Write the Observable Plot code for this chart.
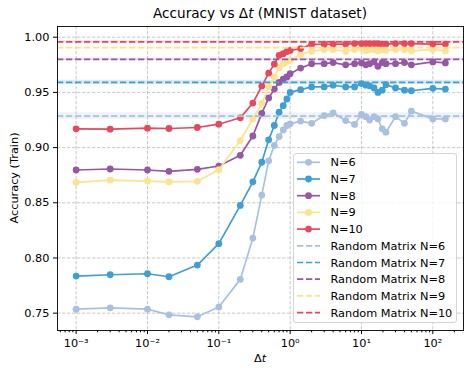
<!DOCTYPE html>
<html>
<head>
<meta charset="utf-8">
<script src="https://cdn.jsdelivr.net/npm/d3@7"></script>
<script src="https://cdn.jsdelivr.net/npm/@observablehq/plot@0.6"></script>
<style>
  html, body { margin: 0; padding: 0; background: #fff; }
  svg { display: block; }
</style>
</head>
<body>
<div id="chart"></div>
<script>
// ---- data ----
const dt = [0.001, 0.003, 0.01, 0.02, 0.05, 0.1, 0.2, 0.3, 0.4, 0.5, 0.6, 0.7, 0.8, 0.9, 1.0, 1.4, 2, 3, 4, 6, 8, 10, 11.5, 13, 15, 17, 19.5, 22, 30, 40, 50, 100, 150];

const accN6 = [0.7536, 0.7548, 0.7536, 0.7485, 0.7467, 0.7555, 0.7806, 0.818, 0.857, 0.888, 0.902, 0.910, 0.916, 0.920, 0.9215, 0.924, 0.922, 0.929, 0.9315, 0.9245, 0.921, 0.930, 0.928, 0.925, 0.928, 0.926, 0.917, 0.914, 0.928, 0.922, 0.933, 0.926, 0.926];
const accN7 = [0.7836, 0.7848, 0.7857, 0.783, 0.7936, 0.813, 0.8476, 0.869, 0.8867, 0.907, 0.920, 0.932, 0.938, 0.944, 0.950, 0.9525, 0.955, 0.955, 0.9565, 0.955, 0.955, 0.958, 0.9565, 0.956, 0.954, 0.950, 0.952, 0.957, 0.954, 0.952, 0.9515, 0.9537, 0.953];
const accN8 = [0.8797, 0.8806, 0.8797, 0.8785, 0.8803, 0.8833, 0.893, 0.9105, 0.931, 0.945, 0.953, 0.959, 0.962, 0.964, 0.967, 0.972, 0.976, 0.976, 0.977, 0.975, 0.976, 0.9767, 0.975, 0.976, 0.9776, 0.9736, 0.977, 0.976, 0.976, 0.977, 0.975, 0.9776, 0.9767];
const accN9 = [0.8685, 0.8706, 0.8697, 0.869, 0.8694, 0.880, 0.9064, 0.926, 0.940, 0.9548, 0.964, 0.9724, 0.976, 0.978, 0.979, 0.9845, 0.9873, 0.9888, 0.9888, 0.9873, 0.9888, 0.9897, 0.988, 0.9888, 0.9888, 0.9876, 0.9888, 0.988, 0.9888, 0.9888, 0.9876, 0.9888, 0.9876];
const accN10 = [0.917, 0.9167, 0.9176, 0.9173, 0.9182, 0.9212, 0.927, 0.9403, 0.9557, 0.9675, 0.9757, 0.9836, 0.985, 0.987, 0.988, 0.9897, 0.9935, 0.9936, 0.9938, 0.9938, 0.9942, 0.9942, 0.9942, 0.9942, 0.9942, 0.9942, 0.9938, 0.9938, 0.9942, 0.9942, 0.9942, 0.9938, 0.9938];

const seriesNames = ["N=6", "N=7", "N=8", "N=9", "N=10"];
const seriesColors = ["#a9c0e0", "#3f9fd2", "#9558a3", "#fde28f", "#e9475f"];

const randomNames = ["Random Matrix N=6", "Random Matrix N=7", "Random Matrix N=8", "Random Matrix N=9", "Random Matrix N=10"];
const randomAcc = [0.9285, 0.959, 0.980, 0.9906, 0.9957];
const randomSd = [0.003, 0.002, 0.001, 0.001, 0.001];

const xMajor = [1e-3, 1e-2, 1e-1, 1e0, 1e1, 1e2];
const xMajorLabels = ["10\u207B\u00B3", "10\u207B\u00B2", "10\u207B\u00B9", "10\u2070", "10\u00B9", "10\u00B2"];
const yTicks = [0.75, 0.80, 0.85, 0.90, 0.95, 1.00];
const xDomain = [5.48e-4, 269];
const yDomain = [0.7343, 1.0097];

// ---- tables ----
const accBySeries = [accN6, accN7, accN8, accN9, accN10];
const table = seriesNames.map((s, i) => dt.map((x, j) => ({series: s, dt: x, acc: accBySeries[i][j]})));
const randomTable = seriesNames.map((s, i) => ({series: s, acc: randomAcc[i], sd: randomSd[i]}));

const xMinor = [];
for (let e = -4; e <= 2; e++) for (let m = 2; m <= 9; m++) {
  const v = m * Math.pow(10, e);
  if (v >= xDomain[0] && v <= xDomain[1]) xMinor.push(v);
}

const FS = 11.3;
const gridStyle = {stroke: "#b0b0b0", strokeOpacity: 0.85, strokeWidth: 0.8, strokeDasharray: "3.4,1.6"};

const seriesMarks = [];
table.forEach((rows) => {
  seriesMarks.push(Plot.line(rows, {x: "dt", y: "acc", stroke: "series", strokeWidth: 1.7}));
  seriesMarks.push(Plot.dot(rows, {x: "dt", y: "acc", fill: "series", r: 3.4, stroke: "none"}));
});

const svg = Plot.plot({
  width: 471,
  height: 373,
  marginLeft: 57,
  marginRight: 8,
  marginTop: 26,
  marginBottom: 43,
  style: {fontFamily: "'DejaVu Sans', sans-serif", fontSize: FS + "px", color: "#000", background: "#fff"},
  x: {type: "log", domain: xDomain},
  y: {domain: yDomain},
  color: {domain: seriesNames, range: seriesColors},
  marks: [
    Plot.gridX(xMajor, gridStyle),
    Plot.gridY(yTicks, gridStyle),
    Plot.rect(randomTable, {x1: () => xDomain[0], x2: () => xDomain[1], y1: d => d.acc - d.sd, y2: d => d.acc + d.sd, fill: "series", fillOpacity: 0.2}),
    ...seriesMarks,
    Plot.ruleY(randomTable, {y: "acc", stroke: "series", strokeWidth: 1.7, strokeDasharray: "6.3,2.7"}),
    Plot.axisX(xMajor, {tickSize: 4, tickPadding: 4, tickFormat: (d) => xMajorLabels[xMajor.indexOf(d)], label: null, fontSize: FS}),
    Plot.axisX(xMinor, {tickSize: 2.3, tickFormat: () => "", label: null}),
    Plot.axisY(yTicks, {tickSize: 4, tickPadding: 4, tickFormat: d3.format(".2f"), label: null, fontSize: FS}),
    Plot.frame({stroke: "#000", strokeWidth: 0.9})
  ]
});

const root = d3.select(svg);
const font = "'DejaVu Sans', sans-serif";

// Title
const title = root.append("text")
  .attr("x", 260).attr("y", 18)
  .attr("text-anchor", "middle")
  .attr("font-family", font).attr("font-size", 13.6).attr("fill", "#000");
title.append("tspan").text("Accuracy vs \u0394");
title.append("tspan").attr("font-style", "italic").text("t");
title.append("tspan").text(" (MNIST dataset)");

// X label
const xl = root.append("text")
  .attr("x", 260).attr("y", 362)
  .attr("text-anchor", "middle")
  .attr("font-family", font).attr("font-size", FS).attr("fill", "#000");
xl.append("tspan").text("\u0394");
xl.append("tspan").attr("font-style", "italic").text("t");

// Y label
root.append("text")
  .attr("transform", "translate(18,178) rotate(-90)")
  .attr("text-anchor", "middle")
  .attr("font-family", font).attr("font-size", FS).attr("fill", "#000")
  .text("Accuracy (Train)");

// Legend
const lg = root.append("g").attr("text-anchor", "start");
lg.append("rect")
  .attr("x", 293.5).attr("y", 153.5).attr("width", 163).attr("height", 169)
  .attr("rx", 2.5).attr("fill", "#fff").attr("fill-opacity", 0.8)
  .attr("stroke", "#d6d6d6").attr("stroke-width", 1);
const entries = [
  ...seriesNames.map((s, i) => ({label: s, color: seriesColors[i], dashed: false})),
  ...randomNames.map((s, i) => ({label: s, color: seriesColors[i], dashed: true}))
];
entries.forEach((e, i) => {
  const y = 162.3 + i * 16.7;
  const ln = lg.append("line")
    .attr("x1", 297).attr("x2", 320).attr("y1", y).attr("y2", y)
    .attr("stroke", e.color).attr("stroke-width", 1.7);
  if (e.dashed) ln.attr("stroke-dasharray", "6.3,2.7");
  else lg.append("circle").attr("cx", 308.5).attr("cy", y).attr("r", 3.4).attr("fill", e.color);
  lg.append("text")
    .attr("x", 330.5).attr("y", y).attr("dy", "0.36em")
    .attr("text-anchor", "start")
    .attr("font-family", font).attr("font-size", FS).attr("fill", "#000")
    .text(e.label);
});

document.getElementById("chart").appendChild(svg);
</script>
</body>
</html>
